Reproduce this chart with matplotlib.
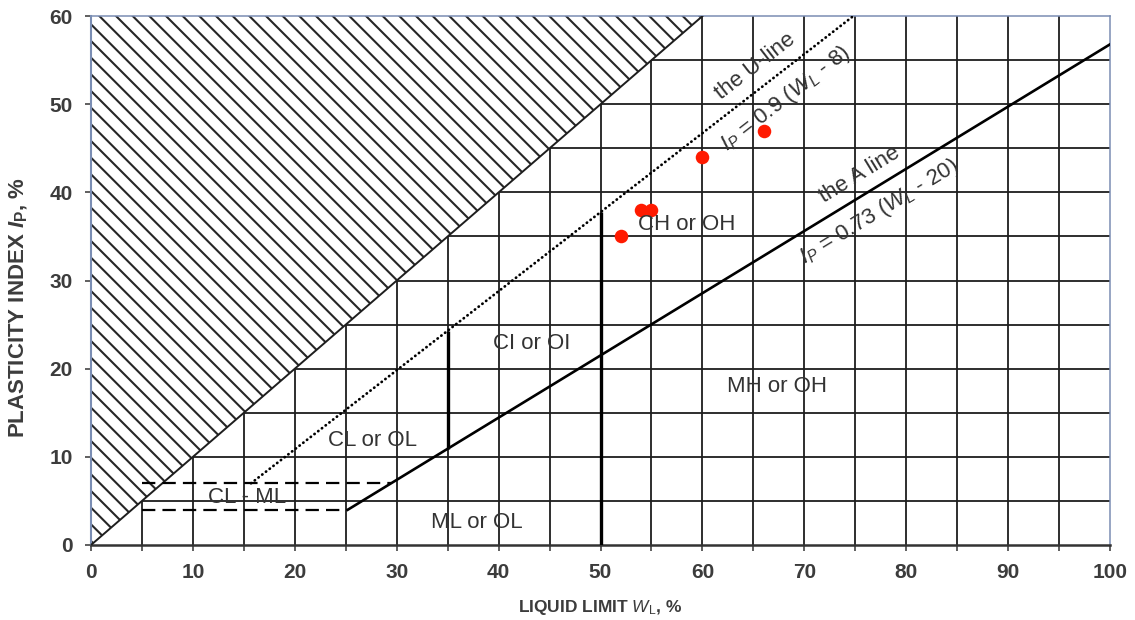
import numpy as np
import matplotlib
matplotlib.use('Agg')
import matplotlib.pyplot as plt

plt.rcParams['font.family'] = ['Liberation Sans', 'DejaVu Sans']
plt.rcParams['mathtext.fontset'] = 'custom'
plt.rcParams['mathtext.rm'] = 'Liberation Sans'
plt.rcParams['mathtext.it'] = 'Liberation Sans:italic'
plt.rcParams['mathtext.bf'] = 'Liberation Sans:bold'
plt.rcParams['mathtext.bfit'] = 'Liberation Sans:italic:bold'
plt.rcParams['hatch.linewidth'] = 1.5

# test results (liquid limit, plasticity index)
wl_samples = [52, 54, 55, 60, 66]
ip_samples = [35, 38, 38, 44, 47]

# chart lines
a_line_wl = [25.2, 100]
a_line_ip = [4.0, 56.8]
u_line_wl = [15.7, 74.8]
u_line_ip = [7.0, 60.0]
# CL-ML band limits
band_ip = [4, 7]
band_wl_start = [5, 5]
band_wl_end = [25.2, 29.4]
# heavy division lines at WL=35 and WL=50
div_wl = [35, 50]
div_ip_low = [10.9, 0]
div_ip_high = [24.3, 37.8]

zone_names = ['CH or OH', 'CI or OI', 'CL or OL', 'CL - ML', 'ML or OL', 'MH or OH']
zone_wl = [58.5, 43.2, 27.6, 15.3, 37.9, 67.3]
zone_ip = [36.4, 22.9, 11.9, 5.4, 2.5, 18.0]

txt = '#333333'
grid_c = '#1e1e1e'
narrow = ['Liberation Sans Narrow', 'Liberation Sans', 'DejaVu Sans']

fig = plt.figure(figsize=(11.35, 6.2), dpi=100)
ax = fig.add_axes([0.0802, 0.121, 0.8978, 0.853])
ax.set_xlim(0, 100)
ax.set_ylim(0, 60)

# hatched zone above WL = IP
ax.fill([0, 0, 60], [0, 60, 60], facecolor='white', edgecolor='#262626',
        hatch='\\\\', linewidth=0, zorder=1)
ax.plot([0, 60], [0, 60], color=grid_c, lw=1.4, zorder=3)

# grid only below the WL = IP line
gx = np.arange(5, 100, 5)
ax.vlines(gx, 0, np.minimum(gx, 60), color=grid_c, lw=1.3, zorder=2)
gy = np.arange(5, 60, 5)
ax.hlines(gy, gy, 100, color=grid_c, lw=1.3, zorder=2)

ax.vlines(div_wl, div_ip_low, div_ip_high, color='black', lw=2.4, zorder=3)

ax.plot(a_line_wl, a_line_ip, color='black', lw=1.9, zorder=4)
ax.plot(u_line_wl, u_line_ip, color='black', lw=2.0,
        linestyle=(0, (0.1, 1.6)), dash_capstyle='round', zorder=4)

for y, x0, x1 in zip(band_ip, band_wl_start, band_wl_end):
    ax.plot([x0, x1], [y, y], color='black', lw=1.6,
            linestyle=(0, (6, 3.2)), zorder=4)

ax.scatter(wl_samples, ip_samples, s=95, color='#ff1a00', zorder=6, linewidths=0)

for name, x, y in zip(zone_names, zone_wl, zone_ip):
    ax.text(x, y, name, fontsize=16, color=txt, ha='center', va='center', zorder=7)


def line_label(xs, ys, wl, text, offset):
    # put text along a line, shifted perpendicular by offset (points)
    p0, p1 = ax.transData.transform([(xs[0], ys[0]), (xs[1], ys[1])])
    ang = np.arctan2(p1[1] - p0[1], p1[0] - p0[0])
    ip = np.interp(wl, xs, ys)
    dx, dy = -np.sin(ang) * offset, np.cos(ang) * offset
    ax.annotate(text, (wl, ip), xytext=(dx, dy), textcoords='offset points',
                rotation=np.degrees(ang), rotation_mode='anchor',
                ha='center', va='center', fontsize=16, color=txt, zorder=7)


line_label(u_line_wl, u_line_ip, 66.4, 'the U-line', 15)
line_label(u_line_wl, u_line_ip, 66.7, r'$I_P$ = 0.9 ($W_L$ - 8)', -17)
line_label(a_line_wl, a_line_ip, 76.4, 'the A line', 14)
line_label(a_line_wl, a_line_ip, 76.2, r'$I_P$ = 0.73 ($W_L$ - 20)', -16.5)

# axes
ax.set_xticks(np.arange(0, 101, 10))
ax.set_xticks(np.arange(0, 101, 5), minor=True)
ax.set_yticks(np.arange(0, 61, 10))
ax.tick_params(which='both', direction='out', length=4, width=1.2, color='#444444')
ax.tick_params(axis='x', labelsize=15, labelcolor='#3c3c3c', pad=9)
ax.tick_params(axis='y', labelsize=15, labelcolor='#3c3c3c', pad=9)
for lab in ax.get_xticklabels():
    lab.set_fontweight('bold')
    lab.set_family(narrow)
for lab in ax.get_yticklabels():
    lab.set_fontweight('bold')

for side in ['top', 'right', 'left']:
    ax.spines[side].set_color('#7a8db3')
    ax.spines[side].set_linewidth(1.1)
ax.spines['left'].set_linewidth(1.5)
ax.spines['bottom'].set_color('#333333')
ax.spines['bottom'].set_linewidth(1.8)

ax.set_xlabel(r'LIQUID LIMIT $\mathit{W}_\mathrm{L}$, %', fontsize=12.5,
              fontweight='bold', color='#3c3c3c', family=narrow)
ax.xaxis.set_label_coords(0.5, -0.1)
ax.set_ylabel(r'PLASTICITY INDEX $\mathbfit{I}_\mathbf{P}$, %', fontsize=16,
              fontweight='bold', color='#3c3c3c')
ax.yaxis.set_label_coords(-0.06, 0.45)

fig.savefig('out.png', dpi=100)
